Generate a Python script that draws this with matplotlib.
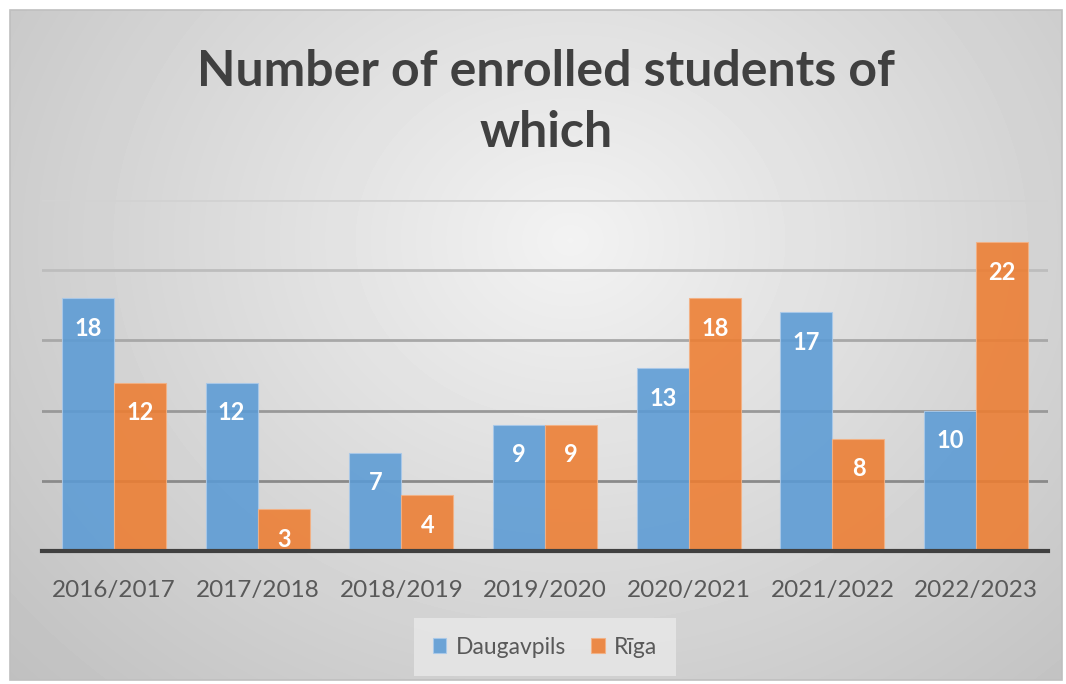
import numpy as np
import matplotlib.pyplot as plt
from matplotlib.patches import Rectangle

years = ["2016/2017", "2017/2018", "2018/2019", "2019/2020",
         "2020/2021", "2021/2022", "2022/2023"]
daugavpils = [18, 12, 7, 9, 13, 17, 10]
riga = [12, 3, 4, 9, 18, 8, 22]
grid_levels = [5, 10, 15, 20, 25]
grid_colors = ["#8a8a8a", "#999999", "#a8a8a8", "#bdbdbd", "#d2d2d2"]

blue = "#5b9bd5"
orange = "#ed7d31"
font = ["Lato", "DejaVu Sans"]
plt.rcParams['font.family'] = font

W, H = 1066, 684
fig = plt.figure(figsize=(W / 100, H / 100), dpi=100)

# radial grey gradient background of the chart area
bg = fig.add_axes([0, 0, 1, 1])
bg.set_xlim(0, W)
bg.set_ylim(H, 0)
bg.axis("off")
fig.patch.set_facecolor("white")
yy, xx = np.mgrid[0:670, 0:1052]
r = np.sqrt(((xx - 560) / 620) ** 2 + ((yy - 230) / 520) ** 2)
shade = 0.95 - 0.16 * np.clip(r, 0, 1.3)
bg.imshow(shade, cmap="gray", vmin=0, vmax=1, extent=(10, 1062, 680, 10),
          aspect="auto", interpolation="bilinear")
bg.add_patch(Rectangle((10, 10), 1052, 670, fill=False, edgecolor="#bfbfbf", lw=1.2))

# main axes
left, right, bottom, top = 42, 1048, 551, 200
ax = fig.add_axes([left / W, 1 - bottom / H, (right - left) / W, (bottom - top) / H])
ax.patch.set_alpha(0)

x = np.arange(len(years))
w = 0.362
b1 = ax.bar(x - w / 2, daugavpils, w, color=blue, alpha=0.88, label="Daugavpils",
            edgecolor="#a9c9ea", linewidth=0.8, zorder=3)
b2 = ax.bar(x + w / 2, riga, w, color=orange, alpha=0.88, label="Rīga",
            edgecolor="#f4b183", linewidth=0.8, zorder=3)

for bars, vals in ((b1, daugavpils), (b2, riga)):
    for rect, v in zip(bars, vals):
        ax.text(rect.get_x() + rect.get_width() / 2, v - 2.15, str(v),
                ha="center", va="center", color="white", fontsize=17,
                fontweight="bold", zorder=4)

for lvl, c in zip(grid_levels, grid_colors):
    ax.axhline(lvl, color=c, linewidth=2, zorder=1)

ax.set_xlim(-0.5, len(years) - 0.5)
ax.set_ylim(0, 25)
ax.set_yticks([])
ax.set_xticks(x)
ax.set_xticklabels(years, fontsize=17.5, color="#595959")
ax.tick_params(axis="x", length=0, pad=21)
for s in ("top", "right", "left"):
    ax.spines[s].set_visible(False)
ax.spines["bottom"].set_color("#404040")
ax.spines["bottom"].set_linewidth(3)
ax.spines["bottom"].set_zorder(5)

fig.text(546 / W, 1 - 102 / H, "Number of enrolled students of\nwhich",
         ha="center", va="center", fontsize=36, fontweight="bold",
         color="#404040", linespacing=1.42)

leg = ax.legend(loc="center", bbox_to_anchor=((545 - left) / (right - left), -(647 - bottom) / (bottom - top)),
                ncol=2, frameon=True, fontsize=16.5, handlelength=0.6, handleheight=0.6,
                handletextpad=0.4, columnspacing=1.1, borderpad=0.5)
leg.get_frame().set_facecolor("#e6e6e6")
leg.get_frame().set_edgecolor("none")
leg.get_frame().set_alpha(0.9)
leg.get_frame().set_boxstyle("square")
for t in leg.get_texts():
    t.set_color("#595959")

fig.savefig("out.png", dpi=100)
